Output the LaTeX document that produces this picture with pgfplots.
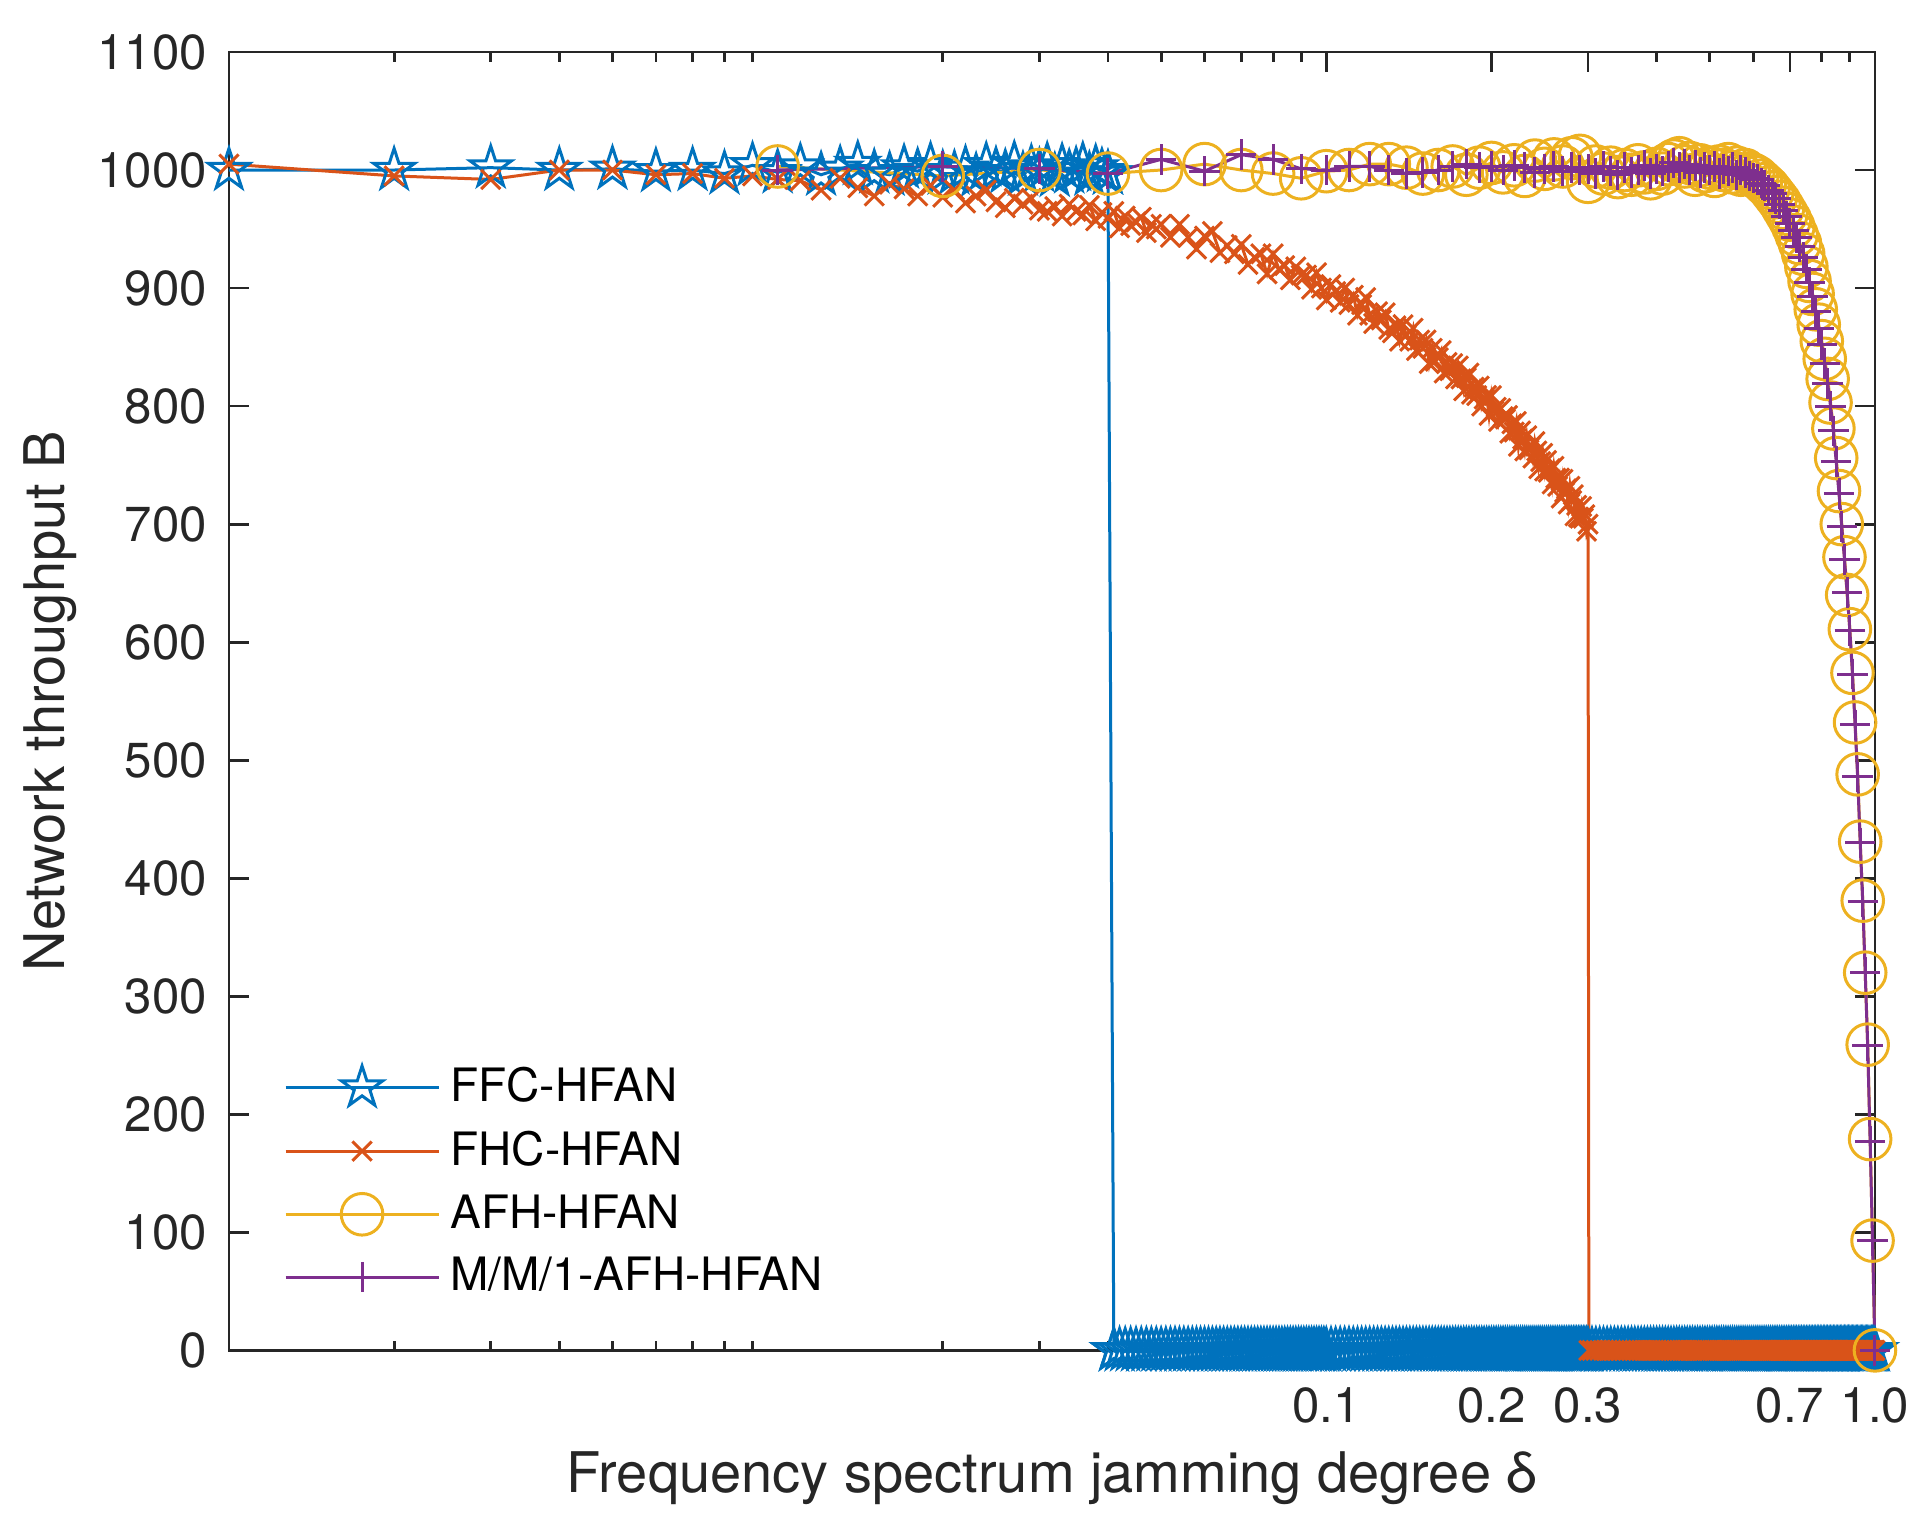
\documentclass[border=0pt]{standalone}
\usepackage{fontspec}
\setmainfont{TeX Gyre Heros}
\usepackage{pgfplots}
\pgfplotsset{compat=1.18}
\usetikzlibrary{plotmarks}
\definecolor{mblue}{rgb}{0,0.447,0.741}
\definecolor{morange}{rgb}{0.85,0.325,0.098}
\definecolor{myellow}{rgb}{0.929,0.694,0.125}
\definecolor{mpurple}{rgb}{0.494,0.184,0.556}
\definecolor{axgray}{rgb}{0.15,0.15,0.15}
\pgfdeclareplotmark{ostar}{%
  \pgfpathmoveto{\pgfpointpolar{90}{\pgfplotmarksize}}%
  \pgfpathlineto{\pgfpointpolar{126}{0.382\pgfplotmarksize}}%
  \pgfpathlineto{\pgfpointpolar{162}{\pgfplotmarksize}}%
  \pgfpathlineto{\pgfpointpolar{198}{0.382\pgfplotmarksize}}%
  \pgfpathlineto{\pgfpointpolar{234}{\pgfplotmarksize}}%
  \pgfpathlineto{\pgfpointpolar{270}{0.382\pgfplotmarksize}}%
  \pgfpathlineto{\pgfpointpolar{306}{\pgfplotmarksize}}%
  \pgfpathlineto{\pgfpointpolar{342}{0.382\pgfplotmarksize}}%
  \pgfpathlineto{\pgfpointpolar{18}{\pgfplotmarksize}}%
  \pgfpathlineto{\pgfpointpolar{54}{0.382\pgfplotmarksize}}%
  \pgfpathclose\pgfusepathqstroke}

% zero stretches (x, y)
\pgfplotstableread{
x y
0.041 0
0.042 0
0.043 0
0.044 0
0.045 0
0.046 0
0.047 0
0.048 0
0.049 0
0.050 0
0.051 0
0.052 0
0.053 0
0.054 0
0.055 0
0.056 0
0.057 0
0.058 0
0.059 0
0.060 0
0.061 0
0.062 0
0.063 0
0.064 0
0.065 0
0.066 0
0.067 0
0.068 0
0.069 0
0.070 0
0.071 0
0.072 0
0.073 0
0.074 0
0.075 0
0.076 0
0.077 0
0.078 0
0.079 0
0.080 0
0.081 0
0.082 0
0.083 0
0.084 0
0.085 0
0.086 0
0.087 0
0.088 0
0.089 0
0.090 0
0.091 0
0.092 0
0.093 0
0.094 0
0.095 0
0.096 0
0.097 0
0.098 0
0.099 0
0.100 0
0.102 0
0.104 0
0.106 0
0.108 0
0.110 0
0.112 0
0.114 0
0.116 0
0.118 0
0.120 0
0.122 0
0.124 0
0.126 0
0.128 0
0.130 0
0.132 0
0.134 0
0.136 0
0.138 0
0.140 0
0.142 0
0.144 0
0.146 0
0.148 0
0.150 0
0.152 0
0.154 0
0.156 0
0.158 0
0.160 0
0.162 0
0.164 0
0.166 0
0.168 0
0.170 0
0.172 0
0.174 0
0.176 0
0.178 0
0.180 0
0.182 0
0.184 0
0.186 0
0.188 0
0.190 0
0.192 0
0.194 0
0.196 0
0.198 0
0.200 0
0.202 0
0.204 0
0.206 0
0.208 0
0.210 0
0.212 0
0.214 0
0.216 0
0.218 0
0.220 0
0.222 0
0.224 0
0.226 0
0.228 0
0.230 0
0.232 0
0.234 0
0.236 0
0.238 0
0.240 0
0.242 0
0.244 0
0.246 0
0.248 0
0.250 0
0.252 0
0.254 0
0.256 0
0.258 0
0.260 0
0.262 0
0.264 0
0.266 0
0.268 0
0.270 0
0.272 0
0.274 0
0.276 0
0.278 0
0.280 0
0.282 0
0.284 0
0.286 0
0.288 0
0.290 0
0.292 0
0.294 0
0.296 0
0.298 0
0.300 0
}\zerosA

\pgfplotstableread{
x y
0.305 0
0.310 0
0.315 0
0.320 0
0.325 0
0.330 0
0.335 0
0.340 0
0.345 0
0.350 0
0.355 0
0.360 0
0.365 0
0.370 0
0.375 0
0.380 0
0.385 0
0.390 0
0.395 0
0.400 0
0.405 0
0.410 0
0.415 0
0.420 0
0.425 0
0.430 0
0.435 0
0.440 0
0.445 0
0.450 0
0.455 0
0.460 0
0.465 0
0.470 0
0.475 0
0.480 0
0.485 0
0.490 0
0.495 0
0.500 0
0.505 0
0.510 0
0.515 0
0.520 0
0.525 0
0.530 0
0.535 0
0.540 0
0.545 0
0.550 0
0.555 0
0.560 0
0.565 0
0.570 0
0.575 0
0.580 0
0.585 0
0.590 0
0.595 0
0.600 0
0.605 0
0.610 0
0.615 0
0.620 0
0.625 0
0.630 0
0.635 0
0.640 0
0.645 0
0.650 0
0.655 0
0.660 0
0.665 0
0.670 0
0.675 0
0.680 0
0.685 0
0.690 0
0.695 0
0.700 0
0.705 0
0.710 0
0.715 0
0.720 0
0.725 0
0.730 0
0.735 0
0.740 0
0.745 0
0.750 0
0.755 0
0.760 0
0.765 0
0.770 0
0.775 0
0.780 0
0.785 0
0.790 0
0.795 0
0.800 0
0.805 0
0.810 0
0.815 0
0.820 0
0.825 0
0.830 0
0.835 0
0.840 0
0.845 0
0.850 0
0.855 0
0.860 0
0.865 0
0.870 0
0.875 0
0.880 0
0.885 0
0.890 0
0.895 0
0.900 0
0.905 0
0.910 0
0.915 0
0.920 0
0.925 0
0.930 0
0.935 0
0.940 0
0.945 0
0.950 0
0.955 0
0.960 0
0.965 0
0.970 0
0.975 0
0.980 0
0.985 0
0.990 0
0.995 0
1.000 0
}\zerosB

\begin{document}
\begin{tikzpicture}
\useasboundingbox (-57.25pt,-44.65pt) rectangle (425.75pt,337.6pt);
\begin{axis}[
  scale only axis, width=411.5pt, height=324.6pt,
  at={(0pt,0pt)}, anchor=south west,
  xmode=log, xmin=0.001, xmax=1, ymin=0, ymax=1100,
  xtick={0.1,0.2,0.3,0.7,1}, xticklabels={0.1,0.2,0.3,0.7,1.0},
  minor xtick={0.002,0.003,0.004,0.005,0.006,0.007,0.008,0.009,0.02,0.03,0.04,0.05,0.06,0.07,0.08,0.09,0.4,0.5,0.6,0.8,0.9},
  ytick={0,100,...,1100},
  /pgf/number format/assume math mode=true,
  /pgf/number format/1000 sep={},
  tick pos=both, tick align=inside,
  major tick length=5pt, minor tick length=2.4pt,
  every tick/.style={axgray, line width=0.7pt},
  axis line style={axgray, line width=0.7pt},
  ticklabel style={font=\fontsize{12.3}{14}\selectfont, text=axgray},
  xticklabel style={yshift=-5.9pt},
  yticklabel style={xshift=-2pt},
  xlabel={Frequency spectrum jamming degree δ},
  ylabel={Network throughput B},
  label style={font=\fontsize{14}{16}\selectfont, text=axgray},
  xlabel style={at={(axis description cs:0.5,0)}, anchor=center, yshift=-32pt},
  ylabel style={at={(axis description cs:-0.1088,0.5)}, anchor=center},
  clip=false,
  legend image code/.code={\draw[mark repeat=2,mark phase=2] plot coordinates {(0pt,0pt) (19.1pt,0pt) (38.25pt,0pt)};},
  legend style={draw=none, fill=none, font=\fontsize{11.5}{13}\selectfont,
    at={(rel axis cs:0,0)}, anchor=south west, xshift=13.6pt, yshift=12.7pt,
    inner xsep=0pt, inner ysep=0pt, row sep=4.8pt,
    nodes={inner ysep=0.5pt, inner xsep=2.6pt}},
  legend cell align=left,
]
\addplot[mblue, line width=0.75pt, mark=ostar, mark size=5.4pt, mark options={solid}] coordinates {
(0.001,1000)(0.002,1000)(0.003,1002)(0.004,1000)(0.005,1001)(0.006,999)(0.007,1000)(0.008,997)(0.009,1004)(0.010,998)
(0.011,1003)(0.012,996)(0.013,1001)(0.014,1005)(0.015,998)(0.016,996)(0.017,1002)(0.018,999)(0.019,1004)(0.020,997)
(0.021,997)(0.022,1001)(0.023,995)(0.024,1004)(0.025,1000)(0.026,998)(0.027,1005)(0.028,996)(0.029,1002)(0.030,999)
(0.031,1004)(0.032,995)(0.033,1003)(0.034,998)(0.035,1000)(0.036,1004)(0.037,996)(0.038,1002)(0.039,999)(0.040,997)
};
\addlegendentry{FFC-HFAN}
\addplot[mblue, line width=0.75pt, mark=ostar, mark size=5.4pt, mark options={solid}, forget plot] coordinates {(0.040,997)(0.041,0)};
\addplot[mblue, line width=0.75pt, mark=ostar, mark size=5.4pt, mark options={solid}, forget plot] table {\zerosA};
\addplot[mblue, line width=0.75pt, mark=ostar, mark size=5.4pt, mark options={solid}, forget plot] table {\zerosB};

\addplot[morange, line width=0.75pt, mark=x, mark size=3.4pt, mark options={solid}] coordinates {
(0.001,1005)(0.002,995)(0.003,992)(0.004,1000)(0.005,1000)(0.006,996)(0.007,997)(0.008,993)(0.009,995)(0.010,992)
(0.011,991)(0.012,983)(0.013,993)(0.014,985)(0.015,978)(0.016,988)(0.017,984)(0.018,978)(0.019,987)(0.020,977)
(0.021,983)(0.022,972)(0.023,978)(0.024,983)(0.025,973)(0.026,968)(0.027,976)(0.028,971)(0.029,976)(0.030,966)
(0.031,965)(0.032,969)(0.033,961)(0.034,971)(0.035,965)(0.036,962)(0.037,970)(0.038,957)(0.039,964)(0.040,959)
(0.041,965)(0.042,951)(0.043,961)(0.044,953)(0.045,956)(0.046,960)(0.047,947)(0.048,954)(0.049,950)(0.050,954)
(0.052,943)(0.054,954)(0.056,943)(0.058,933)(0.060,944)(0.062,948)(0.064,930)(0.066,936)(0.068,929)(0.070,937)
(0.072,920)(0.074,926)(0.076,929)(0.078,912)(0.080,929)(0.082,916)(0.084,919)(0.086,907)(0.088,918)(0.090,911)
(0.092,911)(0.094,899)(0.096,913)(0.098,900)(0.100,890)(0.102,903)(0.104,897)(0.106,888)(0.108,900)(0.110,886)
(0.112,894)(0.114,877)(0.116,886)(0.118,892)(0.120,877)(0.122,870)(0.124,880)(0.126,873)(0.128,879)(0.130,865)
(0.132,862)(0.134,868)(0.136,855)(0.138,869)(0.140,860)(0.142,855)(0.144,866)(0.146,847)(0.148,856)(0.150,849)
(0.152,856)(0.154,836)(0.156,849)(0.158,838)(0.160,841)(0.162,847)(0.164,828)(0.166,837)(0.168,830)(0.170,836)
(0.172,823)(0.174,834)(0.176,823)(0.178,813)(0.180,824)(0.182,828)(0.184,810)(0.186,816)(0.188,809)(0.190,817)
(0.192,800)(0.194,806)(0.196,809)(0.198,792)(0.200,809)(0.202,796)(0.204,799)(0.206,787)(0.208,798)(0.210,791)
(0.212,789)(0.214,792)(0.216,777)(0.218,785)(0.220,778)(0.222,787)(0.224,766)(0.226,779)(0.228,772)(0.230,762)
(0.232,775)(0.234,763)(0.236,766)(0.238,756)(0.240,770)(0.242,762)(0.244,747)(0.246,753)(0.248,760)(0.250,745)
(0.252,754)(0.254,744)(0.256,747)(0.258,734)(0.260,749)(0.262,739)(0.264,732)(0.266,739)(0.268,722)(0.270,738)
(0.272,727)(0.274,730)(0.276,717)(0.278,732)(0.280,720)(0.282,725)(0.284,707)(0.286,716)(0.288,706)(0.290,705)
(0.292,715)(0.294,705)(0.296,708)(0.298,694)(0.300,700)(0.301,0)
};
\addlegendentry{FHC-HFAN}
\addplot[morange, line width=0.75pt, mark=x, mark size=3.4pt, mark options={solid}, forget plot] table {\zerosB};

\addplot[myellow, line width=0.75pt, mark=o, mark size=5.2pt, mark options={solid}] coordinates {
(0.01,1003)(0.02,995)(0.03,1000)(0.04,997)(0.05,1000)(0.06,1005)(0.07,1000)(0.08,997)(0.09,993)(0.10,999)
(0.11,1000)(0.12,1005)(0.13,1005)(0.14,1002)(0.15,997)(0.16,1000)(0.17,1003)(0.18,996)(0.19,1002)(0.20,1006)
(0.21,998)(0.22,1004)(0.23,995)(0.24,1008)(0.25,1001)(0.26,1009)(0.27,1003)(0.28,1010)(0.29,1012)(0.30,990)
(0.31,1003)(0.32,997)(0.33,1002)(0.34,994)(0.35,1000)(0.36,996)(0.37,1004)(0.38,998)(0.39,993)(0.40,1001)
(0.41,997)(0.42,1005)(0.43,1008)(0.44,1010)(0.45,1003)(0.46,1006)(0.47,996)(0.48,1004)(0.49,999)(0.50,1002)
(0.51,995)(0.52,1003)(0.53,1000)(0.54,1005)(0.55,998)(0.56,1002)(0.57,996)(0.58,1000)(0.59,997)(0.60,996)
(0.61,994)(0.62,991)(0.63,988)(0.64,985)(0.65,981)(0.66,977)(0.67,973)(0.68,968)(0.69,963)(0.70,958)
(0.71,952)(0.72,945)(0.73,938)(0.74,929)(0.75,918)(0.76,906)(0.77,895)(0.78,882)(0.79,869)(0.80,855)
(0.81,840)(0.82,823)(0.83,803)(0.84,781)(0.85,756)(0.86,728)(0.87,700)(0.88,672)(0.89,640)(0.90,611)
(0.91,574)(0.92,532)(0.93,488)(0.94,431)(0.95,381)(0.96,320)(0.97,259)(0.98,179)(0.99,93)(1.00,0)
};
\addlegendentry{AFH-HFAN}

\addplot[mpurple, line width=0.75pt, mark=+, mark size=3.8pt, mark options={solid}] coordinates {
(0.01,1000)(0.02,1003)(0.03,1001)(0.04,997)(0.05,1009)(0.06,999)(0.07,1013)(0.08,1009)(0.09,1001)(0.10,1000)
(0.11,1003)(0.12,1003)(0.13,1000)(0.14,997)(0.15,998)(0.16,1000)(0.17,1003)(0.18,1005)(0.19,1002)(0.20,1003)
(0.21,1000)(0.22,1004)(0.23,1002)(0.24,998)(0.25,1001)(0.26,1003)(0.27,999)(0.28,1002)(0.29,1000)(0.30,1001)
(0.31,997)(0.32,1003)(0.33,999)(0.34,996)(0.35,1002)(0.36,998)(0.37,1000)(0.38,1004)(0.39,997)(0.40,1001)
(0.41,999)(0.42,1003)(0.43,1006)(0.44,1002)(0.45,1005)(0.46,1000)(0.47,1004)(0.48,998)(0.49,1002)(0.50,1000)
(0.51,1003)(0.52,997)(0.53,1001)(0.54,999)(0.55,1002)(0.56,996)(0.57,1000)(0.58,998)(0.59,995)(0.60,993)
(0.61,992)(0.62,989)(0.63,987)(0.64,983)(0.65,980)(0.66,976)(0.67,971)(0.68,966)(0.69,961)(0.70,955)
(0.71,949)(0.72,943)(0.73,935)(0.74,926)(0.75,916)(0.76,905)(0.77,893)(0.78,880)(0.79,866)(0.80,852)
(0.81,836)(0.82,819)(0.83,800)(0.84,779)(0.85,753)(0.86,726)(0.87,698)(0.88,670)(0.89,642)(0.90,610)
(0.91,573)(0.92,530)(0.93,486)(0.94,430)(0.95,380)(0.96,320)(0.97,258)(0.98,177)(0.99,93)(1.00,0)
};
\addlegendentry{M/M/1-AFH-HFAN}
\end{axis}
\end{tikzpicture}
\end{document}
